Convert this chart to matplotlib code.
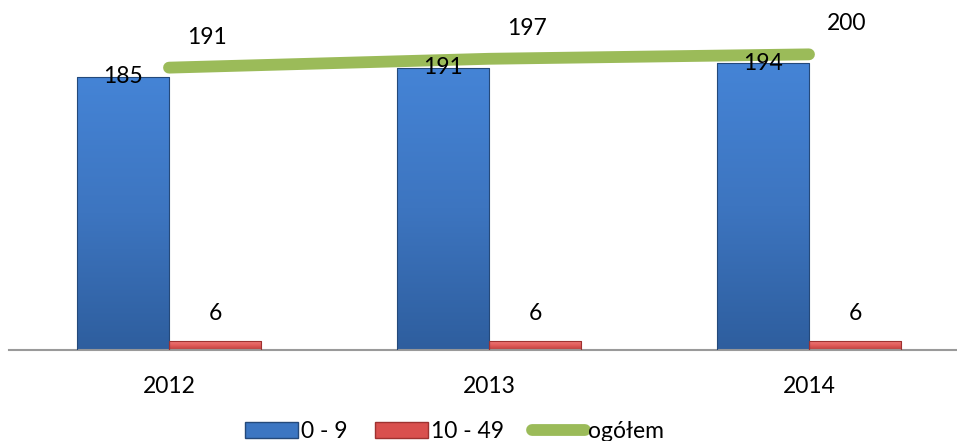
import numpy as np
import matplotlib
matplotlib.use('Agg')
import matplotlib.pyplot as plt
from matplotlib.colors import LinearSegmentedColormap
from matplotlib.patches import Patch
from matplotlib.lines import Line2D

plt.rcParams['font.family'] = ['Lato', 'DejaVu Sans']

years = ['2012', '2013', '2014']
small = [185, 191, 194]      # 0 - 9
medium = [6, 6, 6]           # 10 - 49
total = [191, 197, 200]      # ogółem

blue = '#3C76C2'
red = '#D9504E'
green = '#9BBB59'

fig = plt.figure(figsize=(9.57, 4.41), dpi=100)
ax = fig.add_axes([9 / 957, 91 / 441, 960 / 957, 340 / 441])
ax.set_xlim(-0.5, 2.5)
ax.set_ylim(0, 230)

x = np.arange(len(years))
w = 0.288
b1 = ax.bar(x - w / 2, small, w, color=blue, edgecolor='#24497A', linewidth=0.8, zorder=2)
b2 = ax.bar(x + w / 2, medium, w, color=red, edgecolor='#9E3230', linewidth=0.8, zorder=2)

# vertical gradient inside the bars, edges kept on top
grad_blue = LinearSegmentedColormap.from_list('gb', ['#2E5E9E', '#3D75C0', '#4584D6'])
grad_red = LinearSegmentedColormap.from_list('gr', ['#B83F3D', '#E05A58', '#EE7A78'])
g = np.linspace(0, 1, 256).reshape(-1, 1)
for bars, cmap in [(b1, grad_blue), (b2, grad_red)]:
    for p in bars:
        x0, y0 = p.get_x(), p.get_y()
        im = ax.imshow(g, cmap=cmap, aspect='auto', origin='lower',
                       extent=[x0, x0 + p.get_width(), y0, y0 + p.get_height()],
                       zorder=2.5)
        im.set_clip_path(p)
        p.set_facecolor('none')
        p.set_zorder(2.6)

ax.set_xlim(-0.5, 2.5)
ax.set_ylim(0, 230)

ax.plot(x, total, color=green, linewidth=8.5, solid_capstyle='round', zorder=3)

fs = 16.5
for xi, v in zip(x, small):
    ax.text(xi - w / 2, v, str(v), ha='center', va='center', fontsize=fs, zorder=4)
for xi, v in zip(x, medium):
    ax.annotate(str(v), (xi + w / 2, v), xytext=(0, 20), textcoords='offset points',
                ha='center', va='center', fontsize=fs)
for xi, v in zip(x, total):
    ax.annotate(str(v), (xi, v), xytext=(27, 22), textcoords='offset points',
                ha='center', va='center', fontsize=fs)

for s in ['top', 'right', 'left']:
    ax.spines[s].set_visible(False)
ax.spines['bottom'].set_color('#9A9A9A')
ax.spines['bottom'].set_linewidth(1.5)
ax.set_yticks([])
ax.set_xticks(x)
ax.set_xticklabels(years, fontsize=fs)
ax.tick_params(axis='x', length=0, pad=19)

handles = [Patch(facecolor=blue, edgecolor='#24497A'),
           Patch(facecolor=red, edgecolor='#9E3230'),
           Line2D([], [], color=green, linewidth=8.5, solid_capstyle='round')]
fig.legend(handles, ['0 - 9', '10 - 49', 'ogółem'], loc='center',
           bbox_to_anchor=(0.475, 0.022), ncol=3, frameon=False, fontsize=fs,
           handlelength=2.3, handleheight=0.7, handletextpad=0.15, columnspacing=1.2)

fig.savefig('out.png', dpi=100)
